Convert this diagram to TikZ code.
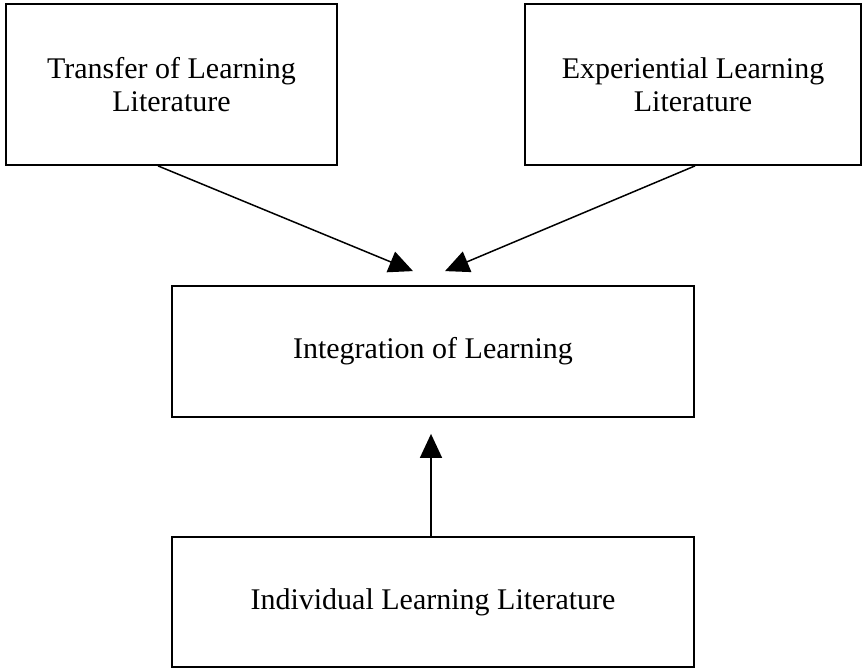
\documentclass[tikz,border=0pt]{standalone}
\usepackage{fontspec}
\setmainfont{Liberation Serif}
\usetikzlibrary{arrows.meta,calc}

\tikzset{
  litbox/.style={draw, line width=1.8pt, align=center, inner sep=0pt,
    font=\fontsize{30}{33}\selectfont},
  feed/.style={line width=1.5pt, -{Triangle[length=24pt,width=22pt]}}
}

\begin{document}
\begin{tikzpicture}[x=1pt, y=-1pt]
  \useasboundingbox (0,0) rectangle (863,669);

  % literature boxes
  \node[litbox, minimum width=331pt, minimum height=161pt] (transfer) at (171.5,84.5)
    {Transfer of Learning\\Literature};
  \node[litbox, minimum width=336pt, minimum height=161pt] (experiential) at (693,84.5)
    {Experiential Learning\\Literature};
  \node[litbox, minimum width=522pt, minimum height=131pt] (integration) at (433,351.5)
    {Integration of Learning};
  \node[litbox, minimum width=522pt, minimum height=130pt] (individual) at (433,602)
    {Individual Learning Literature};

  % arrow ends, just short of the middle box
  \coordinate (tipL) at ($(integration.north)+(-20,-14)$);
  \coordinate (tipR) at ($(integration.north)+(12,-14)$);
  \coordinate (tipB) at ($(integration.south)+(-2,16)$);

  \draw[feed] ($(transfer.south)+(-13.5,0)$) -- (tipL);
  \draw[feed] ($(experiential.south)+(2,0)$) -- (tipR);
  \draw[feed] ($(individual.north)+(-2,0)$) -- (tipB);
\end{tikzpicture}
\end{document}
